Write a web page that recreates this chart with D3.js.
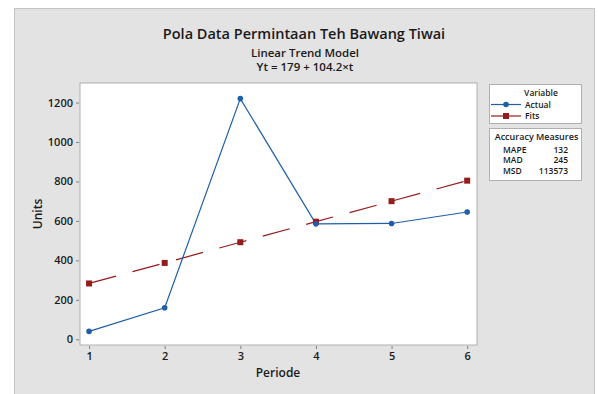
<!DOCTYPE html>
<html>
<head>
<meta charset="utf-8">
<script src="https://cdn.jsdelivr.net/npm/d3@7"></script>
<style>
  body { margin: 0; background: #fff; }
  text { font-family: "Open Sans", "Noto Sans", sans-serif; fill: #1a1a1a; }
</style>
</head>
<body>
<div id="chart"></div>
<script>
const periods = [1, 2, 3, 4, 5, 6];
const actual = [40, 160, 1220, 585, 587, 645];
const fits = [283, 387, 492, 596, 700, 804];
const yTicks = [0, 200, 400, 600, 800, 1000, 1200];
const accuracyLabels = ["MAPE", "MAD", "MSD"];
const accuracyValues = ["132", "245", "113573"];

const width = 598, height = 394;
const plot = { left: 80, right: 477, top: 83, bottom: 345 };

const svg = d3.select("#chart").append("svg")
  .attr("width", width)
  .attr("height", height);

// gray panel
svg.append("rect")
  .attr("x", 14.5).attr("y", 8.5)
  .attr("width", 580).attr("height", 400)
  .attr("fill", "#e3e3e3")
  .attr("stroke", "#c4c4c4");

// titles
svg.append("text").attr("x", 304).attr("y", 38.5)
  .attr("text-anchor", "middle").style("font-size", "14.5px").style("font-weight", 600)
  .text("Pola Data Permintaan Teh Bawang Tiwai");
svg.append("text").attr("x", 305).attr("y", 56.5)
  .attr("text-anchor", "middle").style("font-size", "11.5px").style("font-weight", 600)
  .text("Linear Trend Model");
svg.append("text").attr("x", 305).attr("y", 70.5)
  .attr("text-anchor", "middle").style("font-size", "11.5px").style("font-weight", 600)
  .text("Yt = 179  + 104.2\u00d7t");

const x = d3.scaleLinear().domain([0.88, 6.13]).range([plot.left, plot.right]);
const y = d3.scaleLinear().domain([-29, 1299]).range([plot.bottom, plot.top]);

svg.append("rect")
  .attr("x", plot.left).attr("y", plot.top)
  .attr("width", plot.right - plot.left).attr("height", plot.bottom - plot.top)
  .attr("fill", "#fff").attr("stroke", "#b0b0b0");

const xAxis = svg.append("g")
  .attr("transform", `translate(0,${plot.bottom + 1})`)
  .call(d3.axisBottom(x).tickValues(periods).tickFormat(d3.format("d")).tickSize(3).tickPadding(3));
const yAxis = svg.append("g")
  .attr("transform", `translate(${plot.left - 1},0)`)
  .call(d3.axisLeft(y).tickValues(yTicks).tickFormat(d3.format("d")).tickSize(3).tickPadding(3));
[xAxis, yAxis].forEach(g => {
  g.select(".domain").remove();
  g.selectAll("line").attr("stroke", "#808080");
  g.selectAll("text").style("font-size", "11px").style("font-weight", 600)
    .style("font-family", "'Open Sans', sans-serif").attr("fill", "#222");
});

svg.append("text").attr("x", 278).attr("y", 377)
  .attr("text-anchor", "middle").style("font-size", "12px").style("font-weight", 600)
  .text("Periode");
svg.append("text").attr("transform", "translate(42,214) rotate(-90)")
  .attr("text-anchor", "middle").style("font-size", "12px").style("font-weight", 600)
  .text("Units");

const blue = "#1f5fa8", red = "#961b1b";
const line = d3.line().x((d, i) => x(periods[i])).y(d => y(d));

svg.append("path").datum(fits).attr("d", line)
  .attr("fill", "none").attr("stroke", red).attr("stroke-width", 1.2)
  .attr("stroke-dasharray", "28,17");
svg.append("path").datum(actual).attr("d", line)
  .attr("fill", "none").attr("stroke", blue).attr("stroke-width", 1.2);

svg.selectAll(".fitpt").data(fits).enter().append("rect")
  .attr("x", (d, i) => x(periods[i]) - 3).attr("y", d => y(d) - 3)
  .attr("width", 6).attr("height", 6).attr("fill", red);
svg.selectAll(".actpt").data(actual).enter().append("circle")
  .attr("cx", (d, i) => x(periods[i])).attr("cy", d => y(d))
  .attr("r", 2.8).attr("fill", blue);

// legend
const lg = svg.append("g");
lg.append("rect").attr("x", 489.5).attr("y", 84.5).attr("width", 92).attr("height", 39)
  .attr("fill", "#fff").attr("stroke", "#b0b0b0");
lg.append("text").attr("x", 541).attr("y", 95.5).attr("text-anchor", "middle")
  .style("font-size", "8.5px").style("font-weight", 600).text("Variable");
lg.append("line").attr("x1", 491).attr("x2", 521).attr("y1", 104.5).attr("y2", 104.5)
  .attr("stroke", blue).attr("stroke-width", 1.2);
lg.append("circle").attr("cx", 506).attr("cy", 104.5).attr("r", 2.8).attr("fill", blue);
lg.append("text").attr("x", 525).attr("y", 107.5).style("font-size", "8.5px").style("font-weight", 600).text("Actual");
lg.append("line").attr("x1", 491).attr("x2", 521).attr("y1", 116).attr("y2", 116)
  .attr("stroke", red).attr("stroke-width", 1.2);
lg.append("rect").attr("x", 503).attr("y", 113).attr("width", 6).attr("height", 6).attr("fill", red);
lg.append("text").attr("x", 525).attr("y", 119).style("font-size", "8.5px").style("font-weight", 600).text("Fits");

lg.append("rect").attr("x", 489.5).attr("y", 128.5).attr("width", 92).attr("height", 52)
  .attr("fill", "#fff").attr("stroke", "#b0b0b0");
lg.append("text").attr("x", 536.5).attr("y", 140).attr("text-anchor", "middle")
  .style("font-size", "9px").style("font-weight", 600).text("Accuracy Measures");
const rowY = [152.5, 163, 174];
accuracyLabels.forEach((lab, i) => {
  lg.append("text").attr("x", 503).attr("y", rowY[i]).style("font-size", "8.5px").style("font-weight", 600).text(lab);
  lg.append("text").attr("x", 568).attr("y", rowY[i]).attr("text-anchor", "end")
    .style("font-size", "8.5px").style("font-weight", 600).text(accuracyValues[i]);
});
</script>
</body>
</html>
